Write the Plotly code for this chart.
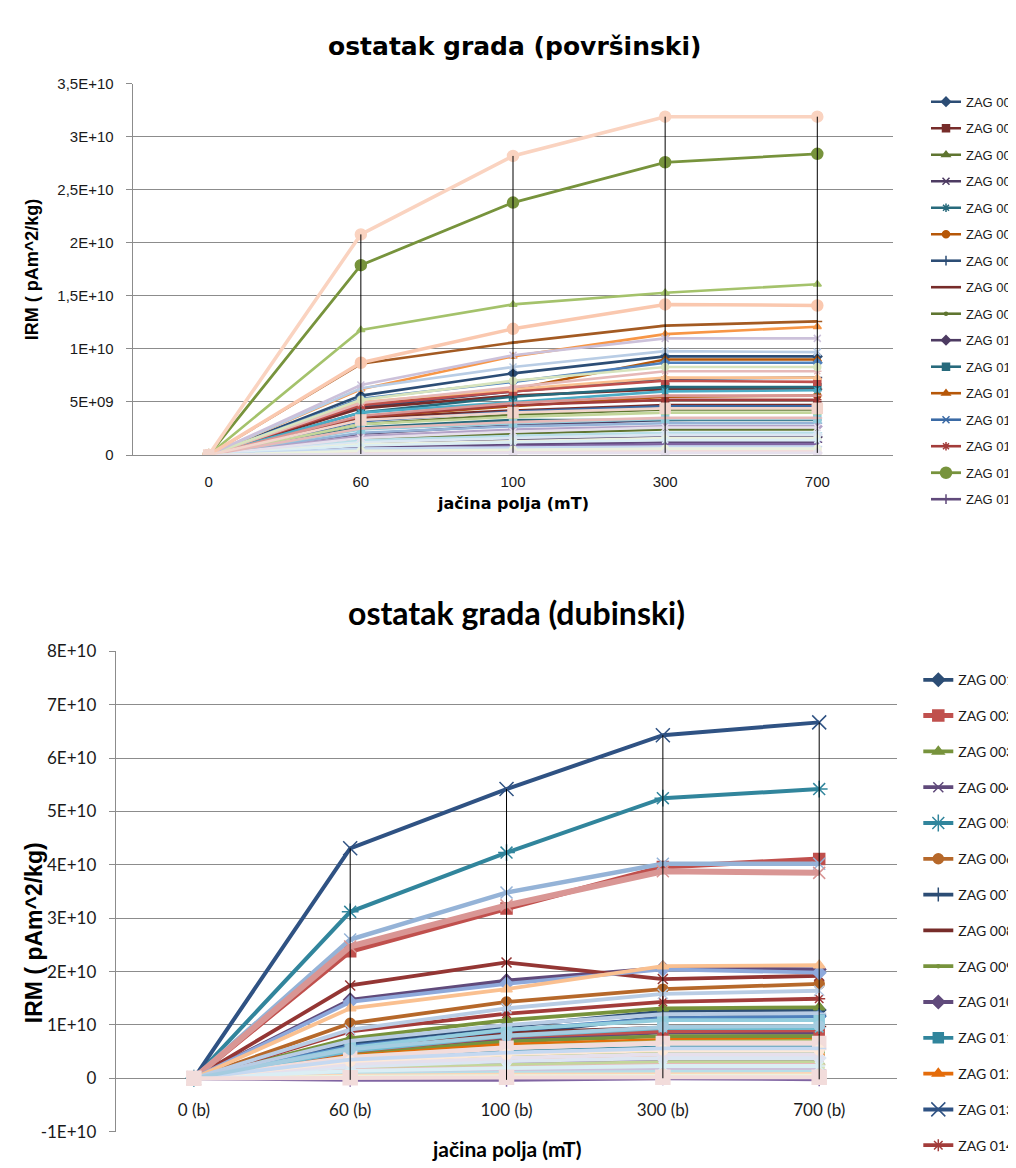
import plotly.graph_objects as go

# ---------------- DATA ----------------
top_categories = ["0", "60", "100", "300", "700"]
bottom_categories = ["0 (b)", "60 (b)", "100 (b)", "300 (b)", "700 (b)"]

top_names = ["ZAG 001", "ZAG 002", "ZAG 003", "ZAG 004", "ZAG 005", "ZAG 006", "ZAG 007", "ZAG 008",
             "ZAG 009", "ZAG 010", "ZAG 011", "ZAG 012", "ZAG 013", "ZAG 014", "ZAG 015", "ZAG 017",
             "ZAG 018", "ZAG 019", "ZAG 020", "ZAG 021", "ZAG 022", "ZAG 023", "ZAG 024", "ZAG 025",
             "ZAG 026", "ZAG 027", "ZAG 028", "ZAG 029", "ZAG 030", "ZAG 031", "ZAG 032", "ZAG 033",
             "ZAG 034", "ZAG 035", "ZAG 036", "ZAG 037", "ZAG 038", "ZAG 039", "ZAG 040", "ZAG 041",
             "ZAG 042", "ZAG 043", "ZAG 044", "ZAG 045", "ZAG 046", "ZAG 047"]
# IRM values (pAm^2/kg) per field step, one entry per series (same order as top_names)
top_at_0 = [0, 0, 0, 0, 0, 0, 0, 0, 0, 0, 0, 0, 0, 0, 0, 0,
            0, 0, 0, 0, 0, 0, 0, 0, 0, 0, 0, 0, 0, 0, 0, 0,
            0, 0, 0, 0, 0, 0, 0, 0, 0, 0, 0, 0, 0, 0]
top_at_60 = [0.56e10, 0.35e10, 0.29e10, 0.20e10, 0.26e10, 0.36e10, 0.45e10, 0.44e10,
             0.15e10, 0.11e10, 0.40e10, 0.48e10, 0.32e10, 0.36e10, 1.79e10, 0.08e10,
             0.86e10, 0.53e10, 0.47e10, 1.18e10, 0.05e10, 0.40e10, 0.62e10, 0.21e10,
             0.37e10, 0.29e10, 0.18e10, 0.24e10, 0.50e10, 0.63e10, 0.49e10, 0.52e10,
             0.66e10, 0.14e10, 0.87e10, 0.12e10, 0.02e10, 0.10e10, 0.16e10, 0.09e10,
             2.08e10, 0.06e10, 0.25e10, 0.04e10, 0.01e10, 0.33e10]
top_at_100 = [0.77e10, 0.42e10, 0.38e10, 0.28e10, 0.33e10, 0.46e10, 0.60e10, 0.56e10,
              0.20e10, 0.15e10, 0.55e10, 0.62e10, 0.41e10, 0.47e10, 2.38e10, 0.10e10,
              1.06e10, 0.69e10, 0.60e10, 1.42e10, 0.08e10, 0.50e10, 0.93e10, 0.27e10,
              0.49e10, 0.36e10, 0.24e10, 0.30e10, 0.62e10, 0.83e10, 0.64e10, 0.70e10,
              0.94e10, 0.18e10, 1.19e10, 0.16e10, 0.03e10, 0.13e10, 0.22e10, 0.12e10,
              2.82e10, 0.07e10, 0.31e10, 0.05e10, 0.02e10, 0.40e10]
top_at_300 = [0.93e10, 0.47e10, 0.43e10, 0.33e10, 0.33e10, 0.55e10, 0.72e10, 0.62e10,
              0.24e10, 0.17e10, 0.64e10, 0.90e10, 0.46e10, 0.52e10, 2.76e10, 0.12e10,
              1.22e10, 0.87e10, 0.70e10, 1.53e10, 0.10e10, 0.60e10, 1.14e10, 0.30e10,
              0.56e10, 0.40e10, 0.27e10, 0.34e10, 0.73e10, 0.98e10, 0.79e10, 0.83e10,
              1.10e10, 0.21e10, 1.42e10, 0.19e10, 0.04e10, 0.16e10, 0.26e10, 0.14e10,
              3.19e10, 0.08e10, 0.35e10, 0.06e10, 0.02e10, 0.44e10]
top_at_700 = [0.93e10, 0.47e10, 0.43e10, 0.34e10, 0.33e10, 0.56e10, 0.73e10, 0.62e10,
              0.24e10, 0.17e10, 0.64e10, 0.90e10, 0.46e10, 0.52e10, 2.84e10, 0.12e10,
              1.26e10, 0.87e10, 0.69e10, 1.61e10, 0.10e10, 0.61e10, 1.21e10, 0.30e10,
              0.56e10, 0.40e10, 0.27e10, 0.34e10, 0.73e10, 0.97e10, 0.79e10, 0.83e10,
              1.10e10, 0.21e10, 1.41e10, 0.19e10, 0.04e10, 0.16e10, 0.26e10, 0.14e10,
              3.19e10, 0.08e10, 0.35e10, 0.06e10, 0.02e10, 0.44e10]

bottom_names = ["ZAG 001", "ZAG 002", "ZAG 003", "ZAG 004", "ZAG 005", "ZAG 006", "ZAG 007", "ZAG 008",
                "ZAG 009", "ZAG 010", "ZAG 011", "ZAG 012", "ZAG 013", "ZAG 014", "ZAG 015", "ZAG 017",
                "ZAG 018", "ZAG 019", "ZAG 020", "ZAG 021", "ZAG 022", "ZAG 023", "ZAG 024", "ZAG 025",
                "ZAG 026", "ZAG 027", "ZAG 028", "ZAG 029", "ZAG 030", "ZAG 031", "ZAG 032", "ZAG 033",
                "ZAG 034", "ZAG 035", "ZAG 036", "ZAG 037", "ZAG 038", "ZAG 039", "ZAG 040", "ZAG 041",
                "ZAG 042", "ZAG 043", "ZAG 044", "ZAG 045", "ZAG 046"]
bottom_at_0 = [0, 0, 0, 0, 0, 0, 0, 0, 0, 0, 0, 0, 0, 0, 0, 0,
               0, 0, 0, 0, 0, 0, 0, 0, 0, 0, 0, 0, 0, 0, 0, 0,
               0, 0, 0, 0, 0, 0, 0, 0, 0, 0, 0, 0, 0]
bottom_at_60 = [0.66e10, 2.38e10, 0.75e10, 0.48e10, 3.12e10, 1.03e10, 0.63e10, 0.55e10,
                0.45e10, 1.47e10, 0.35e10, 0.42e10, 4.31e10, 0.88e10, 0.30e10, -0.03e10,
                1.74e10, 0.60e10, 0.50e10, 0.40e10, 0.20e10, 0.51e10, 0.25e10, 2.60e10,
                2.47e10, 0.18e10, 1.43e10, 0.57e10, 1.31e10, 0.91e10, 0.15e10, 0.12e10,
                0.10e10, 0.08e10, 0.05e10, 0.22e10, 0.39e10, 0.03e10, 0.27e10, 0.14e10,
                0.32e10, 0.35e10, 0.70e10, 0.54e10, 0.01e10]
bottom_at_100 = [0.97e10, 3.18e10, 1.09e10, 0.72e10, 4.23e10, 1.43e10, 0.82e10, 0.85e10,
                 0.69e10, 1.83e10, 0.50e10, 0.63e10, 5.42e10, 1.21e10, 0.42e10, -0.03e10,
                 2.17e10, 0.90e10, 0.78e10, 0.58e10, 0.30e10, 0.79e10, 0.35e10, 3.48e10,
                 3.24e10, 0.25e10, 1.77e10, 0.91e10, 1.67e10, 1.31e10, 0.20e10, 0.16e10,
                 0.13e10, 0.10e10, 0.07e10, 0.32e10, 0.57e10, 0.04e10, 0.38e10, 0.19e10,
                 0.45e10, 0.48e10, 1.00e10, 0.80e10, 0.02e10]
bottom_at_300 = [1.25e10, 3.96e10, 1.31e10, 0.86e10, 5.25e10, 1.67e10, 1.15e10, 0.95e10,
                 0.79e10, 2.07e10, 0.58e10, 0.72e10, 6.43e10, 1.43e10, 0.50e10, 0.00e10,
                 1.86e10, 1.12e10, 0.88e10, 0.68e10, 0.36e10, 0.94e10, 0.42e10, 4.02e10,
                 3.88e10, 0.30e10, 2.04e10, 1.09e10, 2.10e10, 1.58e10, 0.25e10, 0.20e10,
                 0.16e10, 0.12e10, 0.08e10, 0.38e10, 0.66e10, 0.05e10, 0.45e10, 0.23e10,
                 0.53e10, 0.56e10, 1.20e10, 0.96e10, 0.02e10]
bottom_at_700 = [1.28e10, 4.11e10, 1.33e10, 0.85e10, 5.42e10, 1.77e10, 1.18e10, 0.97e10,
                 0.79e10, 2.04e10, 0.58e10, 0.72e10, 6.67e10, 1.49e10, 0.50e10, -0.02e10,
                 1.92e10, 1.16e10, 0.90e10, 0.70e10, 0.36e10, 0.94e10, 0.42e10, 4.02e10,
                 3.85e10, 0.30e10, 1.98e10, 1.09e10, 2.12e10, 1.64e10, 0.25e10, 0.20e10,
                 0.16e10, 0.12e10, 0.08e10, 0.38e10, 0.66e10, 0.05e10, 0.45e10, 0.23e10,
                 0.53e10, 0.56e10, 1.22e10, 0.98e10, 0.02e10]

top_ytick_vals = [0, 5e9, 1e10, 1.5e10, 2e10, 2.5e10, 3e10, 3.5e10]
top_ytick_text = ["0", "5E+09", "1E+10", "1,5E+10", "2E+10", "2,5E+10", "3E+10", "3,5E+10"]
bottom_ytick_vals = [-1e10, 0, 1e10, 2e10, 3e10, 4e10, 5e10, 6e10, 7e10, 8e10]
bottom_ytick_text = ["-1E+10", "0", "1E+10", "2E+10", "3E+10", "4E+10", "5E+10", "6E+10", "7E+10", "8E+10"]

TOP_LEGEND_COUNT = 16
BOTTOM_LEGEND_COUNT = 14

# ---------------- STYLES ----------------
top_colors = ["#2C4D75", "#772C2A", "#5F7530", "#4D3B62", "#276A7C", "#B65708", "#2C4D75", "#772C2A",
              "#5F7530", "#4D3B62", "#276A7C", "#B65708", "#3A6AA5", "#A33C3A", "#77933C", "#604A7B",
              "#A35A22", "#4F81BD", "#C0504D", "#A4C26B", "#8064A2", "#4BACC6", "#F79646", "#95B3D7",
              "#D99694", "#C3D69B", "#B3A2C7", "#93CDDD", "#FAC090", "#B9CDE5", "#E6B9B8", "#D7E4BD",
              "#CCC1DA", "#B7DEE8", "#FAC8AF", "#DCE6F2", "#F2DCDB", "#EBF1DE", "#E6E0EC", "#DBEEF4",
              "#FAD3C0", "#C6D9F1", "#E6B9B8", "#EBF1DE", "#E6E0EC", "#F2D5CC"]
top_symbols = ["diamond", "square", "triangle-up", "x-thin-open", "asterisk-open", "circle",
               "cross-thin-open", "line-ew-open", "circle", "diamond", "square", "triangle-up",
               "x-thin-open", "asterisk-open", "circle", "cross-thin-open",
               "line-ew-open", "diamond", "square", "triangle-up", "x-thin-open", "asterisk-open",
               "triangle-up", "cross-thin-open", "line-ew-open", "triangle-up", "diamond", "square",
               "triangle-up", "x-thin-open", "asterisk-open", "circle", "x-thin-open", "line-ew-open",
               "circle", "diamond", "square", "triangle-up", "x-thin-open", "asterisk-open",
               "circle", "cross-thin-open", "line-ew-open", "circle", "diamond", "square"]
bottom_colors = ["#2C4D75", "#C0504D", "#77933C", "#5F497A", "#31859C", "#B6682A", "#2C4D75", "#772C2A",
                 "#77933C", "#604A7B", "#31859C", "#E46C0A", "#2F5283", "#A33C3A", "#9BBB59", "#8064A2",
                 "#943634", "#4F81BD", "#C0504D", "#9BBB59", "#8064A2", "#6FBDD1", "#F79646", "#95B3D7",
                 "#D99694", "#C3D69B", "#8EA9DB", "#93CDDD", "#FAC090", "#B9CDE5", "#E6B9B8", "#D7E4BD",
                 "#CCC1DA", "#B7DEE8", "#FCD5B5", "#DCE6F2", "#F2DCDB", "#EBF1DE", "#E6E0EC", "#DBEEF4",
                 "#FDE9D9", "#C6D9F1", "#B8CCE4", "#A5CCE0", "#F2DCDB"]
bottom_symbols = ["diamond", "square", "triangle-up", "x-thin-open", "asterisk-open", "circle",
                  "cross-thin-open", "line-ew-open", "circle", "diamond", "square", "triangle-up",
                  "x-thin-open", "asterisk-open", "circle", "cross-thin-open",
                  "x-thin-open", "diamond", "square", "triangle-up", "x-thin-open", "asterisk-open",
                  "circle", "x-thin-open", "x-thin-open", "triangle-up", "diamond", "square",
                  "triangle-up", "x-thin-open", "asterisk-open", "circle", "cross-thin-open", "line-ew-open",
                  "circle", "diamond", "square", "triangle-up", "x-thin-open", "asterisk-open",
                  "circle", "cross-thin-open", "line-ew-open", "circle", "square"]

W, H = 1016, 1168
TOP = dict(x0=125, x1=888, y0=66, y1=444, ymin=0, ymax=3.5e10)
BOT = dict(x0=108, x1=892, y0=644, y1=1133, ymin=-1e10, ymax=8e10)

fig = go.Figure()


def add_chart(names, cols, cats, colors, symbols, xa, ya, legend, n_leg, lw, msize, prefix, big=None):
    n = len(names)
    for i in range(n):
        vals = [c[i] for c in cols]
        sym = symbols[i]
        ms = msize
        if sym == "circle" and i % 9 == 8:
            ms = 3
        w = lw
        if big and names[i] in big:
            w, ms = big[names[i]]
        fig.add_trace(go.Scatter(
            x=cats, y=vals, name=names[i], mode="lines+markers",
            line=dict(color=colors[i], width=w),
            marker=dict(symbol=sym, size=ms, color=colors[i],
                        line=dict(color=colors[i], width=1.5)),
            xaxis=xa, yaxis=ya, legend=legend,
            showlegend=i < n_leg, legendgroup=prefix + str(i),
        ))
    # high-low lines (min to max at each category)
    hx, hy = [], []
    for j, c in enumerate(cols):
        hx += [cats[j], cats[j], None]
        hy += [min(c), max(c), None]
    fig.add_trace(go.Scatter(x=hx, y=hy, mode="lines", line=dict(color="#000000", width=1),
                             xaxis=xa, yaxis=ya, showlegend=False, hoverinfo="skip"))


add_chart(top_names, [top_at_0, top_at_60, top_at_100, top_at_300, top_at_700], top_categories,
          top_colors, top_symbols, "x", "y", "legend", TOP_LEGEND_COUNT, 2.6, 7, "t",
          big={"ZAG 015": (2.8, 11), "ZAG 042": (3.5, 11), "ZAG 036": (3.5, 11), "ZAG 047": (2.6, 10)})
add_chart(bottom_names, [bottom_at_0, bottom_at_60, bottom_at_100, bottom_at_300, bottom_at_700],
          bottom_categories, bottom_colors, bottom_symbols, "x2", "y2", "legend2", BOTTOM_LEGEND_COUNT,
          3.8, 10, "b",
          big={"ZAG 002": (5, 11), "ZAG 026": (6, 12), "ZAG 038": (5, 13), "ZAG 013": (4, 14),
               "ZAG 005": (4, 14), "ZAG 025": (4.5, 12), "ZAG 046": (4, 14)})

GRID = "#8C8C8C"
SANS = "Liberation Sans, Arial, sans-serif"
LATO = "Lato, Carlito, sans-serif"
TICKFONT_TOP = dict(family=SANS, size=15, color="#1a1a1a")
TICKFONT_BOT = dict(family=LATO, size=17, color="#1a1a1a")


def px_dom_x(a, b):
    return [a / W, b / W]


def px_dom_y(top, bottom):
    return [1 - bottom / H, 1 - top / H]


bot_zero_px = BOT["y1"] - (0 - BOT["ymin"]) / (BOT["ymax"] - BOT["ymin"]) * (BOT["y1"] - BOT["y0"])

fig.update_layout(
    width=W, height=H, paper_bgcolor="white", plot_bgcolor="white",
    margin=dict(l=0, r=0, t=0, b=0),
    xaxis=dict(domain=px_dom_x(TOP["x0"], TOP["x1"]), anchor="y", type="category",
               range=[-0.5, 4.5], showgrid=False, zeroline=False, showline=True,
               linecolor=GRID, linewidth=1, ticks="", tickfont=TICKFONT_TOP,
               ticklabelstandoff=13),
    yaxis=dict(domain=px_dom_y(TOP["y0"], TOP["y1"]), anchor="x",
               range=[TOP["ymin"], TOP["ymax"]], tickvals=top_ytick_vals, ticktext=top_ytick_text,
               showgrid=True, gridcolor=GRID, gridwidth=1, zeroline=False, showline=True,
               linecolor=GRID, linewidth=1, ticks="outside", ticklen=6, tickcolor=GRID,
               tickfont=TICKFONT_TOP, ticklabelstandoff=9),
    xaxis2=dict(domain=px_dom_x(BOT["x0"], BOT["x1"]), anchor="free", position=1 - bot_zero_px / H,
                type="category", range=[-0.5, 4.5], showgrid=False, zeroline=False, showline=False,
                ticks="", tickfont=TICKFONT_BOT, ticklabelstandoff=20),
    yaxis2=dict(domain=px_dom_y(BOT["y0"], BOT["y1"]), anchor="x2",
                range=[BOT["ymin"], BOT["ymax"]], tickvals=bottom_ytick_vals, ticktext=bottom_ytick_text,
                showgrid=True, gridcolor=GRID, gridwidth=1, zeroline=False, showline=True,
                linecolor=GRID, linewidth=1, ticks="outside", ticklen=6, tickcolor=GRID,
                tickfont=TICKFONT_BOT, ticklabelstandoff=9),
    legend=dict(x=921 / W, y=1 - 69 / H, xanchor="left", yanchor="top",
                font=dict(family=SANS, size=13, color="#1a1a1a"),
                bgcolor="rgba(0,0,0,0)", tracegroupgap=6.6, itemclick=False, itemdoubleclick=False),
    legend2=dict(x=913 / W, y=1 - 657 / H, xanchor="left", yanchor="top",
                 font=dict(family=LATO, size=14, color="#1a1a1a"),
                 bgcolor="rgba(0,0,0,0)", tracegroupgap=14.6, itemclick=False, itemdoubleclick=False),
    showlegend=True,
)

ann = [
    dict(text="<b>ostatak grada (površinski)</b>", x=508 / W, y=1 - 28 / H,
         font=dict(family="DejaVu Sans, sans-serif", size=25, color="#000000")),
    dict(text="<b>jačina polja (mT)</b>", x=506 / W, y=1 - 493 / H,
         font=dict(family="DejaVu Sans, sans-serif", size=16, color="#000000")),
    dict(text="<b>IRM ( pAm^2/kg)</b>", x=24 / W, y=1 - 255 / H, textangle=-90,
         font=dict(family=SANS, size=18, color="#000000")),
    dict(text="<b>ostatak grada (dubinski)</b>", x=510 / W, y=1 - 604 / H,
         font=dict(family=LATO, size=32, color="#000000")),
    dict(text="<b>jačina polja (mT)</b>", x=500 / W, y=1 - 1150 / H,
         font=dict(family=LATO, size=21, color="#000000")),
    dict(text="<b>IRM ( pAm^2/kg)</b>", x=26 / W, y=1 - 930 / H, textangle=-90,
         font=dict(family=SANS, size=23, color="#000000")),
]
for a in ann:
    a.update(xref="paper", yref="paper", showarrow=False, xanchor="center", yanchor="middle")
fig.update_layout(annotations=ann)

fig.write_html("out.html")
